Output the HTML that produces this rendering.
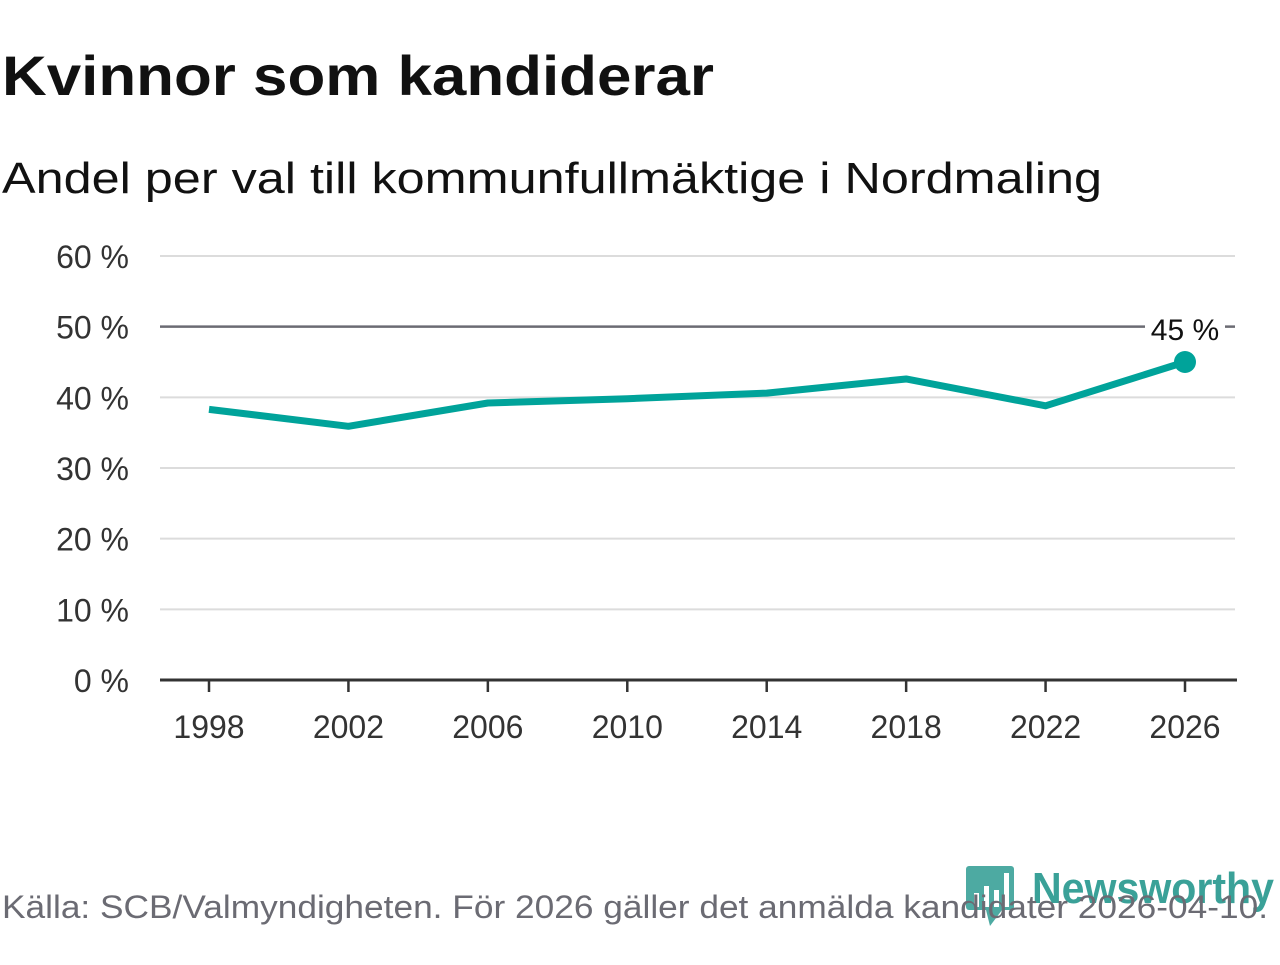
<!DOCTYPE html>
<html><head><meta charset="utf-8"><style>
body{margin:0;background:#fff;width:1280px;height:960px;overflow:hidden;font-family:"Liberation Sans","DejaVu Sans",sans-serif}
</style></head><body>
<svg id="chart" width="1280" height="960" xmlns="http://www.w3.org/2000/svg" font-family="'Liberation Sans','DejaVu Sans',sans-serif">
<text x="2" y="95" font-size="56" font-weight="bold" fill="#111" textLength="712" lengthAdjust="spacingAndGlyphs">Kvinnor som kandiderar</text>
<text x="2" y="193" font-size="44" fill="#111" textLength="1100" lengthAdjust="spacingAndGlyphs">Andel per val till kommunfullmäktige i Nordmaling</text>
<g id="grid"></g><g id="axes"></g><g id="series"></g>
<g>
<rect x="966" y="866" width="48" height="44" rx="3" fill="#3aa198" opacity="0.9"/>
<polygon points="986,910 1002,910 990,926" fill="#3aa198" opacity="0.9"/>
<rect x="974" y="893" width="5" height="14" fill="#fff"/><rect x="984" y="886" width="5" height="21" fill="#fff"/><rect x="994" y="890" width="5" height="17" fill="#fff"/><rect x="1004" y="873" width="5" height="34" fill="#fff"/>
<text x="1032" y="903" font-size="44" font-weight="bold" fill="#3aa198" textLength="242" lengthAdjust="spacingAndGlyphs">Newsworthy</text>
</g>
<text x="2" y="918" font-size="32" fill="#6b6b73" textLength="1266" lengthAdjust="spacingAndGlyphs">Källa: SCB/Valmyndigheten. För 2026 gäller det anmälda kandidater 2026-04-10.</text>
</svg>
<script>
const years=[1998,2002,2006,2010,2014,2018,2022,2026];
const shares=[38.3,35.9,39.2,39.8,40.6,42.6,38.8,45.0];
const yTicks=[0,10,20,30,40,50,60];
const refValue=50;
const NS="http://www.w3.org/2000/svg";
const x=v=>209+(v-1998)*(1185-209)/28;
const y=v=>680-v*(680-256)/60;
function mk(tag,attrs,parent,text){const e=document.createElementNS(NS,tag);for(const k in attrs)e.setAttribute(k,attrs[k]);if(text!==undefined)e.textContent=text;document.getElementById(parent).appendChild(e);return e;}
yTicks.forEach(t=>{
 if(t>0){const l=mk('line',{x1:160,x2:1235,y1:y(t),y2:y(t),stroke:t===refValue?'#6b6b73':'#dcdcdc','stroke-width':t===refValue?2.5:2},'grid');
 
 }
 const tx=mk('text',{x:129,y:y(t)+12,'font-size':32,fill:'#333','text-anchor':'end'},'axes',t+' %');
 
 
});
const ax=mk('line',{x1:160,x2:1237,y1:680,y2:680,stroke:'#333','stroke-width':3},'axes');


years.forEach(yr=>{
 const tk=mk('line',{x1:x(yr),x2:x(yr),y1:680,y2:692,stroke:'#333','stroke-width':2.5},'axes');
 
 
 const tl=mk('text',{x:x(yr),y:738,'font-size':32,fill:'#333','text-anchor':'middle'},'axes',yr);
 
 
});
const pl=mk('polyline',{points:years.map((yr,i)=>x(yr)+','+y(shares[i])).join(' '),fill:'none',stroke:'#00a39a','stroke-width':7,'stroke-linejoin':'round'},'series');


const n=years.length-1;
const bg=mk('rect',{x:x(years[n])-40,y:y(refValue)-12,width:80,height:26,fill:'#fff'},'series');


const lb=mk('text',{x:x(years[n]),y:y(shares[n])-22,'font-size':30,fill:'#111','text-anchor':'middle'},'series',Math.round(shares[n])+' %');


const dot=mk('circle',{cx:x(years[n]),cy:y(shares[n]),r:11,fill:'#00a39a'},'series');


</script>
</body></html>
